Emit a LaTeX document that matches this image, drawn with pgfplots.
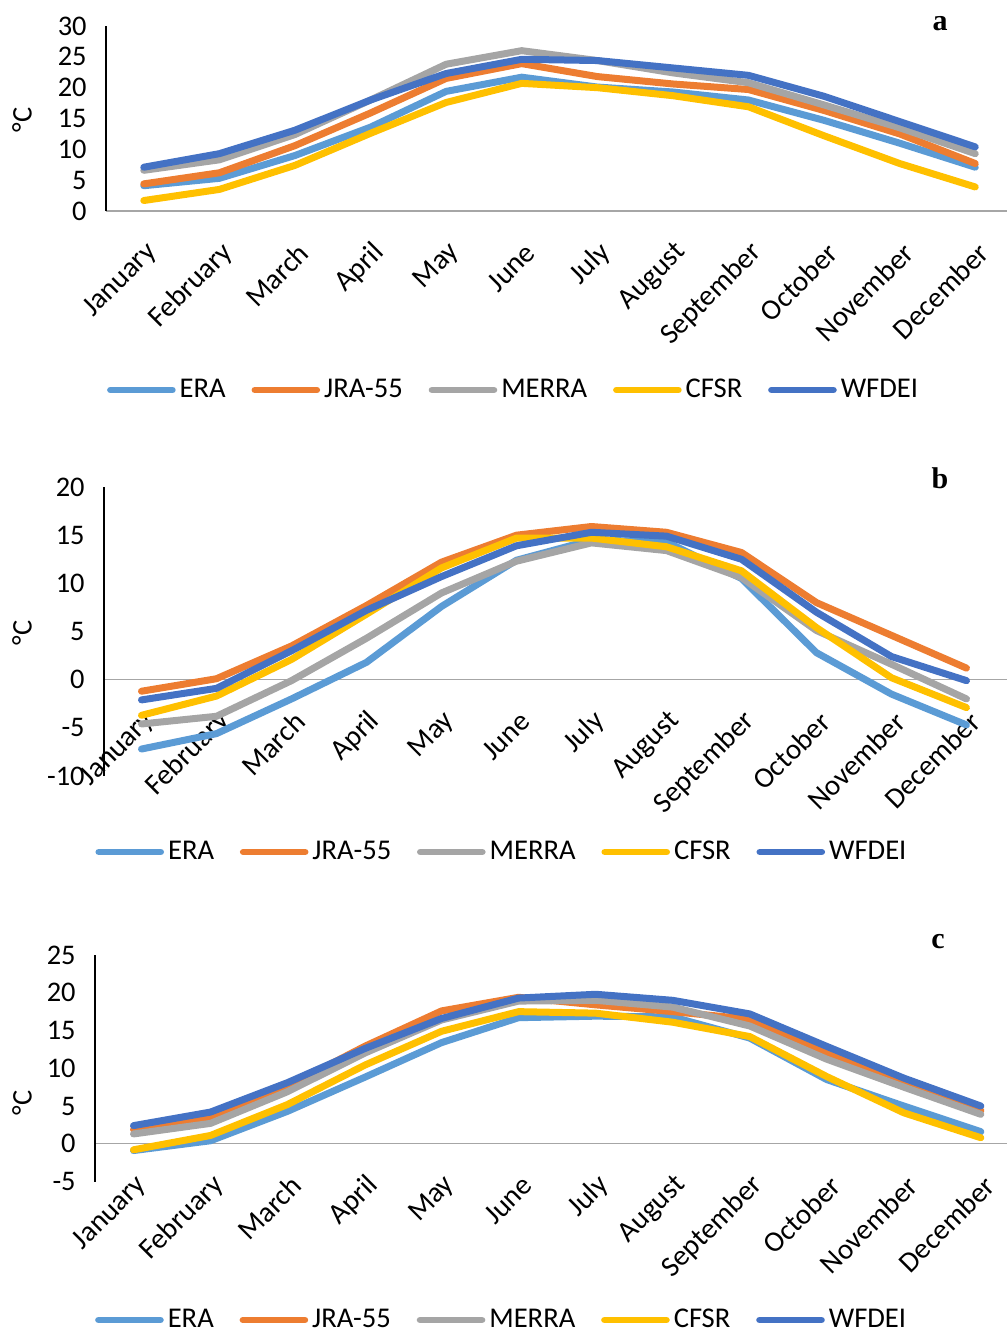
\documentclass[border=0pt]{standalone}
\usepackage{fontspec}
\setmainfont{Carlito}
\newfontfamily\panelfont{Liberation Serif}
\usepackage{pgfplots}
\usepackage{pgfplotstable}
\pgfplotsset{compat=1.18}

\definecolor{era}{HTML}{5B9BD5}
\definecolor{jra}{HTML}{ED7D31}
\definecolor{merra}{HTML}{A5A5A5}
\definecolor{cfsr}{HTML}{FFC000}
\definecolor{wfdei}{HTML}{4472C4}
\definecolor{zeroline}{HTML}{A6A6A6}

% monthly mean temperature (degC), one table per region
\pgfplotstableread{
m ERA JRA MERRA CFSR WFDEI
0  4.1  4.4  6.6  1.7  7.1
1  5.3  6.2  8.3  3.5  9.3
2  9.0 10.6 12.4  7.4 13.1
3 13.6 15.9 18.0 12.6 18.0
4 19.4 21.5 23.8 17.6 22.3
5 21.7 23.9 26.0 20.7 24.6
6 20.1 21.8 24.4 20.0 24.4
7 19.3 20.6 22.4 18.7 23.2
8 18.0 19.7 20.8 16.9 22.0
9 14.7 16.3 17.2 12.2 18.6
10 11.0 12.5 13.5 7.7 14.5
11 7.1  7.7  9.3  3.9 10.4
}\tabA

\pgfplotstableread{
m ERA JRA MERRA CFSR WFDEI
0 -7.2 -1.2 -4.6 -3.7 -2.1
1 -5.6  0.1 -3.8 -1.7 -0.9
2 -2.0  3.5 -0.1  2.1  3.0
3  1.8  7.7  4.3  6.8  7.2
4  7.6 12.2  9.0 11.6 10.7
5 12.4 15.0 12.3 14.7 13.9
6 14.5 15.9 14.2 14.7 15.3
7 14.3 15.3 13.4 13.8 14.9
8 10.5 13.2 10.6 11.3 12.5
9  2.8  8.0  5.1  5.4  7.0
10 -1.5 4.6  1.6  0.2  2.4
11 -4.7 1.2 -2.0 -2.9 -0.1
}\tabB

\pgfplotstableread{
m ERA JRA MERRA CFSR WFDEI
0 -0.9  1.9  1.3 -0.8  2.4
1  0.4  3.5  2.7  1.1  4.2
2  4.3  7.6  6.9  5.2  8.1
3  8.8 12.9 12.0 10.4 12.6
4 13.4 17.6 16.4 14.9 16.6
5 16.7 19.4 18.9 17.5 19.3
6 16.9 18.4 19.0 17.3 19.8
7 16.8 17.5 18.1 16.1 19.0
8 14.0 16.5 15.6 14.2 17.2
9  8.5 12.0 11.2  8.9 12.9
10 5.0  8.3  7.5  4.1  8.7
11 1.6  4.4  3.9  0.8  5.0
}\tabC

\pgfplotsset{
  legend image code/.code={\draw[#1, line width=3.3pt, line cap=round] (0pt,0pt) -- (31pt,0pt);},
  monthly/.style={
    scale only axis,
    axis x line=middle, axis y line=left,
    x axis line style={-, draw=zeroline, line width=0.7pt},
    y axis line style={-, draw=black, line width=0.6pt},
    xmin=-0.5,
    xtick={0,...,11},
    xticklabels={January,February,March,April,May,June,July,August,September,October,November,December},
    major tick length=0pt,
    tick label style={inner sep=0pt},
    xticklabel style={font=\fontsize{14.5}{17}\selectfont, xshift=4.5pt, yshift=-18.5pt, rotate=45, anchor=east},
    yticklabel style={font=\fontsize{14.2}{17}\selectfont, anchor=east, xshift=-9.5pt},
    clip=false,
    every axis plot/.append style={line width=3.5pt, line join=round, line cap=round, mark=none},
    legend columns=5,
    legend style={draw=none, fill=none, anchor=center,
      font=\fontsize{14.3}{17}\selectfont,
      /tikz/every even column/.append style={column sep=10.9pt},
      nodes={inner sep=2pt}},
  }
}

\begin{document}
\begin{tikzpicture}
\useasboundingbox (0pt,0pt) rectangle (503.5pt,-667pt);

% (a)
\begin{axis}[monthly, at={(53pt,-105.5pt)}, anchor=south west,
  width=450.5pt, height=92.5pt, xmax=11.42, ymin=0, ymax=30,
  ytick={0,5,...,30}, yticklabels={0,5,10,15,20,25,30},
  legend style={at={(0.4535,-0.9676)}}]
\addplot[era]   table[x=m, y=ERA]   {\tabA};
\addplot[jra]   table[x=m, y=JRA]   {\tabA};
\addplot[merra] table[x=m, y=MERRA] {\tabA};
\addplot[cfsr]  table[x=m, y=CFSR]  {\tabA};
\addplot[wfdei] table[x=m, y=WFDEI] {\tabA};
\legend{ERA,JRA-55,MERRA,CFSR,WFDEI}
\end{axis}

% (b)
\begin{axis}[monthly, at={(52pt,-388pt)}, anchor=south west,
  width=451.5pt, height=144.5pt, xmax=11.54, ymin=-10, ymax=20,
  ytick={-10,-5,...,20}, yticklabels={-10,-5,0,5,10,15,20},
  legend style={at={(0.4418,-0.263)}}]
\addplot[era]   table[x=m, y=ERA]   {\tabB};
\addplot[jra]   table[x=m, y=JRA]   {\tabB};
\addplot[merra] table[x=m, y=MERRA] {\tabB};
\addplot[cfsr]  table[x=m, y=CFSR]  {\tabB};
\addplot[wfdei] table[x=m, y=WFDEI] {\tabB};
\legend{ERA,JRA-55,MERRA,CFSR,WFDEI}
\end{axis}

% (c)
\begin{axis}[monthly, at={(47.5pt,-590.75pt)}, anchor=south west,
  width=456pt, height=113.25pt, xmax=11.34, ymin=-5, ymax=25,
  ytick={-5,0,...,25}, yticklabels={-5,0,5,10,15,20,25},
  legend style={at={(0.447,-0.6115)}}]
\addplot[era]   table[x=m, y=ERA]   {\tabC};
\addplot[jra]   table[x=m, y=JRA]   {\tabC};
\addplot[merra] table[x=m, y=MERRA] {\tabC};
\addplot[cfsr]  table[x=m, y=CFSR]  {\tabC};
\addplot[wfdei] table[x=m, y=WFDEI] {\tabC};
\legend{ERA,JRA-55,MERRA,CFSR,WFDEI}
\end{axis}

% unit labels and panel letters
\foreach \yy in {-60pt,-316.5pt,-551.5pt}
  \node[rotate=90, font=\fontsize{14.2}{17}\selectfont] at (11pt,\yy) {°C};
\node[font=\panelfont\bfseries\fontsize{15}{18}\selectfont] at (470pt,-12pt) {a};
\node[font=\panelfont\bfseries\fontsize{15}{18}\selectfont] at (470pt,-239pt) {b};
\node[font=\panelfont\bfseries\fontsize{15}{18}\selectfont] at (469pt,-471pt) {c};
\end{tikzpicture}
\end{document}
